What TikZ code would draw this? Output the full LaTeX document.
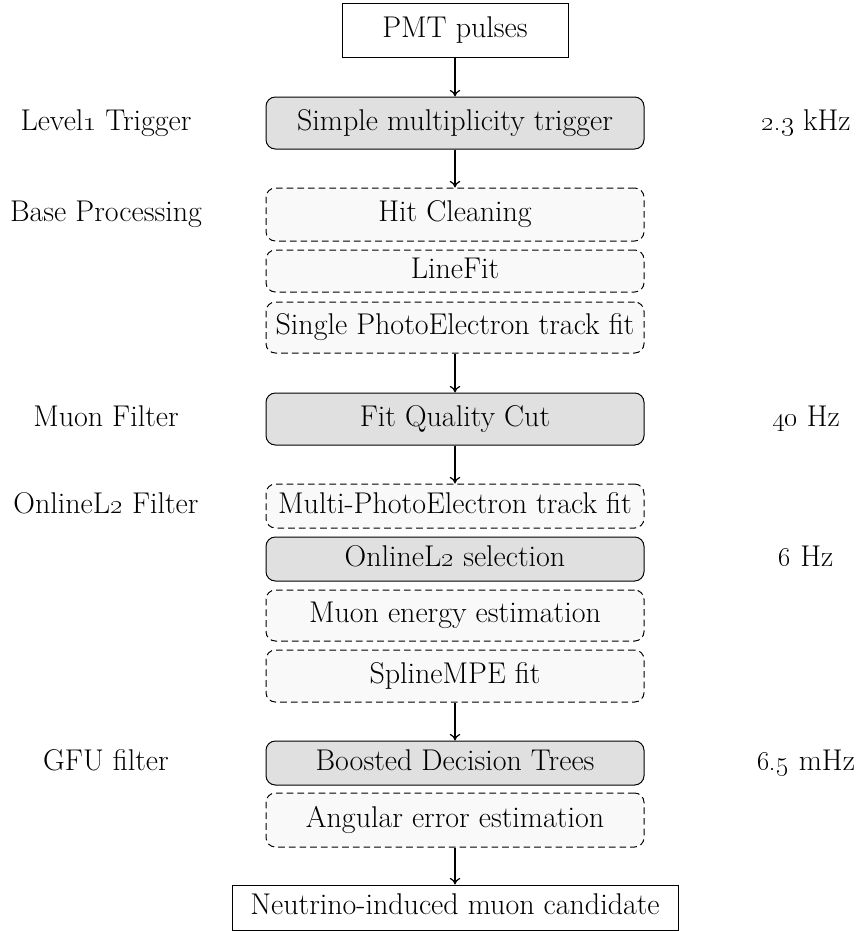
\documentclass[tikz,border=0pt]{standalone}
\usetikzlibrary{arrows.meta}
\definecolor{cutfill}{gray}{0.88}
\definecolor{recofill}{gray}{0.975}
\begin{document}
\begin{tikzpicture}[x=0.75pt,y=-0.75pt,
  every node/.style={font=\fontsize{22.5}{27}\selectfont, text height=15.5pt, text depth=5pt},
  plainbox/.style={draw, line width=0.75pt, inner xsep=6pt, inner ysep=1pt},
  cutbox/.style={draw, line width=0.75pt, rounded corners=7pt, fill=cutfill,
                 minimum width=283.5pt, inner ysep=1pt},
  recobox/.style={draw, line width=0.75pt, rounded corners=7pt, fill=recofill,
                 dash pattern=on 5pt off 3pt, minimum width=283.5pt, inner ysep=1pt, inner xsep=1pt},
  flow/.style={line width=0.9pt, -{To[length=5pt,width=8pt]}},
  level/.style={},
  rate/.style={}]
\useasboundingbox (0,0) rectangle (861,931);

% processing chain
\node[plainbox, minimum width=169.5pt, minimum height=40.5pt] (pmt) at (455,31) {PMT pulses};
\node[cutbox,  minimum height=39pt]    (smt)    at (455,123)   {Simple multiplicity trigger};
\node[recobox, minimum height=39.75pt] (hit)    at (455,214.5) {Hit Cleaning};
\node[recobox, minimum height=31.5pt]  (line)   at (455,271)   {LineFit};
\node[recobox, minimum height=38.25pt] (spe)    at (455,327.5) {Single PhotoElectron track fit};
\node[cutbox,  minimum height=39pt]    (fqc)    at (455,419)   {Fit Quality Cut};
\node[recobox, minimum height=33pt]    (mpe)    at (455,506)   {Multi-PhotoElectron track fit};
\node[cutbox,  minimum height=33pt]    (ol2)    at (455,559)   {OnlineL\oldstylenums{2} selection};
\node[recobox, minimum height=38.25pt] (energy) at (455,615.5) {Muon energy estimation};
\node[recobox, minimum height=39pt]    (spline) at (455,676)   {SplineMPE fit};
\node[cutbox,  minimum height=33pt]    (bdt)    at (455,763)   {Boosted Decision Trees};
\node[recobox, minimum height=40.5pt]  (angerr) at (455,820)   {Angular error estimation};
\node[plainbox, minimum width=334.5pt, minimum height=33.75pt] (cand) at (455,907.5) {Neutrino-induced muon candidate};

\draw[flow] (pmt)    -- (smt);
\draw[flow] (smt)    -- (hit);
\draw[flow] (spe)    -- (fqc);
\draw[flow] (fqc)    -- (mpe);
\draw[flow] (spline) -- (bdt);
\draw[flow] (angerr) -- (cand);

% filter levels
\node[level] (lv1)  at (106,123) {Level\oldstylenums{1} Trigger};
\node[level] (base) at (106,214) {Base Processing};
\node[level] (muf)  at (106,419) {Muon Filter};
\node[level] (ol2f) at (106,506) {OnlineL\oldstylenums{2} Filter};
\node[level] (gfu)  at (106,763) {GFU filter};

% event rates
\node[rate] (r1) at (806,123) {\oldstylenums{2.3} kHz};
\node[rate] (r2) at (806,419) {\oldstylenums{40} Hz};
\node[rate] (r3) at (806,559) {\oldstylenums{6} Hz};
\node[rate] (r4) at (806,763) {\oldstylenums{6.5} mHz};
\end{tikzpicture}
\end{document}
